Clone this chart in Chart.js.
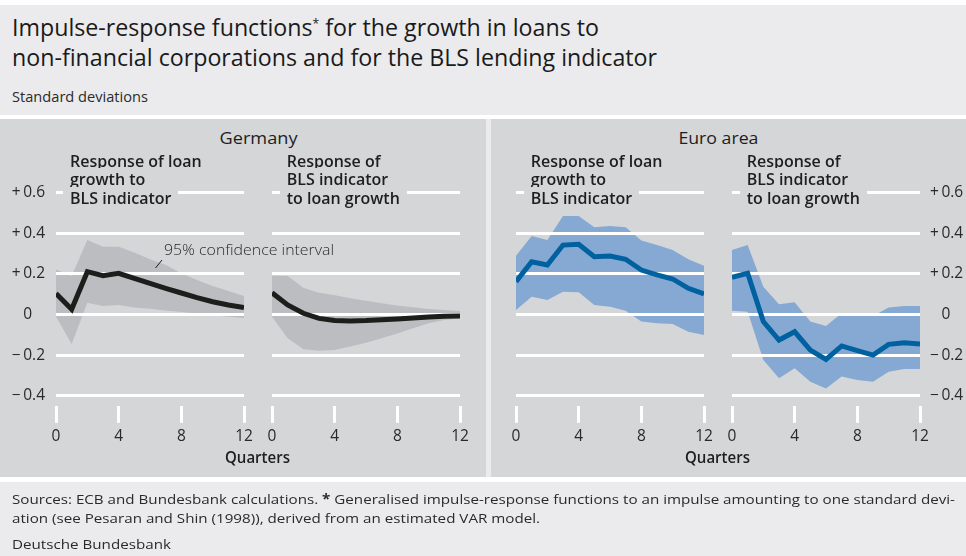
<!DOCTYPE html>
<html>
<head>
<meta charset="utf-8">
<script src="https://cdn.jsdelivr.net/npm/chart.js@4/dist/chart.umd.min.js"></script>
<style>
  html, body { margin: 0; padding: 0; }
  body {
    width: 966px; height: 556px; position: relative; overflow: hidden;
    background: #ebebed; font-family: "Open Sans", "Noto Sans", sans-serif; color: #1e1e1e;
  }
  .strip { position: absolute; left: 0; width: 966px; background: #ffffff; }
  .panel { position: absolute; top: 119px; height: 358px; background: #d5d6d8; }
  canvas { position: absolute; }
  .line { position: absolute; white-space: nowrap; }
  .fit { display: inline-block; transform-origin: left center; }
  .center { text-align: center; width: 400px; }
  .center .fit { transform-origin: center center; }
  .title { font-size: 23px; line-height: 30px; left: 12px; color: #1a1a1a; }
  .title sup { font-size: 12px; vertical-align: top; position: relative; top: -3px; }
  .unit { font-size: 14px; line-height: 20px; left: 12px; color: #2a2a2a; }
  .note { font-size: 13.5px; line-height: 19px; left: 12px; color: #2a2a2a; }
  .region { font-size: 17px; line-height: 22px; font-weight: 500; }
  .axisname { font-size: 15.5px; line-height: 20px; font-weight: 600; }
  .sub { position: absolute; font-size: 16px; line-height: 18.3px; font-weight: 600; white-space: nowrap; }
  .sub div span { background: #d5d6d8; padding: 0 7px; margin-left: -7px; }
  .ci { font-size: 14.5px; line-height: 20px; font-weight: 300; color: #2a2a2a; }
</style>
</head>
<body>
<div class="strip" style="top:0;height:5px"></div>
<div class="strip" style="top:115px;height:4px"></div>
<div class="strip" style="top:477px;height:5px"></div>
<div class="panel" style="left:0;width:486px"></div>
<div class="panel" style="left:491px;width:475px"></div>

<div class="line title" style="top:12px"><span class="fit" id="t1">Impulse-response functions<sup>*</sup> for the growth in loans to</span></div>
<div class="line title" style="top:42px"><span class="fit" id="t2" data-w="645">non-financial corporations and for the BLS lending indicator</span></div>
<div class="line unit" style="top:86.6px"><span class="fit" data-w="136">Standard deviations</span></div>

<div class="line region center" style="left:58px;top:127px"><span class="fit" data-w="78">Germany</span></div>
<div class="line region center" style="left:518px;top:127px"><span class="fit" data-w="80">Euro area</span></div>

<canvas id="c1" width="308" height="300" style="left:-4px;top:170px"></canvas>
<canvas id="c2" width="308" height="300" style="left:212px;top:170px"></canvas>
<canvas id="c3" width="308" height="300" style="left:456px;top:170px"></canvas>
<canvas id="c4" width="308" height="300" style="left:672px;top:170px"></canvas>

<div class="sub" style="left:70px;top:152px"><div><span>Response of loan</span></div><div><span>growth to</span></div><div><span>BLS indicator</span></div></div>
<div class="sub" style="left:286.7px;top:152px"><div><span>Response of</span></div><div><span>BLS indicator</span></div><div><span>to loan growth</span></div></div>
<div class="sub" style="left:530.7px;top:152px"><div><span>Response of loan</span></div><div><span>growth to</span></div><div><span>BLS indicator</span></div></div>
<div class="sub" style="left:746.7px;top:152px"><div><span>Response of</span></div><div><span>BLS indicator</span></div><div><span>to loan growth</span></div></div>

<div class="line ci" style="left:164px;top:240px"><span class="fit" data-w="170">95% confidence interval</span></div>
<svg style="position:absolute;left:0;top:0" width="966" height="556">
  <line x1="155.5" y1="268" x2="162" y2="260" stroke="#1a1a1a" stroke-width="1"/>
</svg>

<div class="line axisname center" style="left:58px;top:447px"><span class="fit" data-w="65">Quarters</span></div>
<div class="line axisname center" style="left:518px;top:447px"><span class="fit" data-w="65">Quarters</span></div>

<div class="line note" style="top:490.3px"><span class="fit" id="n1" data-w="943">Sources: ECB and Bundesbank calculations. <b>*</b> Generalised impulse-response functions to an impulse amounting to one standard devi-</span></div>
<div class="line note" style="top:509.3px"><span class="fit" data-ref="n1">ation (see Pesaran and Shin (1998)), derived from an estimated VAR model.</span></div>
<div class="line note" style="top:535.3px"><span class="fit" data-ref="n1">Deutsche Bundesbank</span></div>

<script>
// Horizon in quarters and axis tick values
const QUARTERS = [0, 1, 2, 3, 4, 5, 6, 7, 8, 9, 10, 11, 12];
const X_TICKS = [0, 4, 8, 12];
const Y_TICKS = [-0.4, -0.2, 0, 0.2, 0.4, 0.6];

// Germany: response of loan growth to BLS indicator
const deLoanResp  = [0.104, 0.026, 0.211, 0.191, 0.203, 0.178, 0.153, 0.129, 0.106, 0.083, 0.063, 0.047, 0.034];
const deLoanUpper = [0.222, 0.190, 0.367, 0.334, 0.334, 0.305, 0.272, 0.244, 0.203, 0.170, 0.140, 0.116, 0.091];
const deLoanLower = [-0.010, -0.145, 0.058, 0.042, 0.047, 0.035, 0.028, 0.020, 0.012, 0.005, -0.004, -0.011, -0.017];

// Germany: response of BLS indicator to loan growth
const deBlsResp  = [0.107, 0.047, 0.006, -0.019, -0.030, -0.032, -0.030, -0.026, -0.022, -0.017, -0.012, -0.009, -0.007];
const deBlsUpper = [0.191, 0.190, 0.132, 0.107, 0.095, 0.080, 0.068, 0.055, 0.044, 0.036, 0.027, 0.022, 0.017];
const deBlsLower = [-0.011, -0.117, -0.171, -0.178, -0.175, -0.158, -0.139, -0.117, -0.093, -0.068, -0.043, -0.027, -0.019];

// Euro area: response of loan growth to BLS indicator
const euLoanResp  = [0.162, 0.260, 0.244, 0.342, 0.346, 0.285, 0.288, 0.272, 0.219, 0.195, 0.175, 0.129, 0.101];
const euLoanUpper = [0.290, 0.387, 0.367, 0.485, 0.485, 0.430, 0.436, 0.430, 0.364, 0.342, 0.318, 0.272, 0.240];
const euLoanLower = [0.022, 0.088, 0.071, 0.112, 0.110, 0.047, 0.038, 0.018, -0.035, -0.043, -0.047, -0.085, -0.101];

// Euro area: response of BLS indicator to loan growth
const euBlsResp  = [0.183, 0.203, -0.035, -0.126, -0.085, -0.175, -0.221, -0.155, -0.178, -0.200, -0.147, -0.139, -0.145];
const euBlsUpper = [0.318, 0.342, 0.137, 0.050, 0.060, -0.035, -0.057, 0.006, 0.006, -0.007, 0.035, 0.042, 0.042];
const euBlsLower = [0.019, 0.014, -0.224, -0.314, -0.265, -0.331, -0.364, -0.306, -0.323, -0.331, -0.282, -0.268, -0.268];

const TEXT = '#2a2a2a';
const FONT = '"Open Sans", "Noto Sans", sans-serif';

// Plot area geometry (page px)
const PLOT_TOP = 192.7, PLOT_BOTTOM = 405.85, CANVAS_TOP = 170, CANVAS_H = 300, CANVAS_W = 308;
const X_AXIS_H = 40;
const LEFT_AXIS_W = 56, RIGHT_AXIS_W = 46;

function tickText(v, side) {
  if (Math.abs(v) < 1e-9) return side === 'left' ? '0\u2008\u2007' : '\u2007\u2009' + '0';
  const s = Math.abs(v).toFixed(1);
  return (v > 0 ? '+\u2009' : '\u2212\u2009') + s;
}

// After the confidence band has been filled, redraw the horizontal grid so the
// white lines sit on top of the band but under the response line.
const gridOverBand = {
  id: 'gridOverBand',
  afterDatasetDraw(chart, args) {
    if (args.index === 1) chart.scales.y.drawGrid(chart.chartArea);
  }
};

function panel(id, plotLeft, plotRight, canvasLeft, resp, upper, lower, lineColor, bandColor, ySide) {
  const pts = arr => QUARTERS.map((q, i) => ({ x: q, y: arr[i] }));
  const yW = ySide === 'left' ? LEFT_AXIS_W : ySide === 'right' ? RIGHT_AXIS_W : 0;
  const padLeft = plotLeft - canvasLeft - (ySide === 'left' ? yW : 0);
  const padRight = (canvasLeft + CANVAS_W) - plotRight - (ySide === 'right' ? yW : 0);
  new Chart(document.getElementById(id), {
    type: 'line',
    data: {
      datasets: [
        { data: pts(resp), borderColor: lineColor, borderWidth: 5, pointRadius: 0,
          borderJoinStyle: 'miter', fill: false, tension: 0 },
        { data: pts(upper), borderColor: 'rgba(0,0,0,0)', borderWidth: 0, pointRadius: 0,
          backgroundColor: bandColor, fill: '+1', tension: 0 },
        { data: pts(lower), borderColor: 'rgba(0,0,0,0)', borderWidth: 0, pointRadius: 0,
          fill: false, tension: 0 }
      ]
    },
    options: {
      responsive: false,
      animation: false,
      events: [],
      layout: {
        padding: {
          left: padLeft, right: padRight,
          top: PLOT_TOP - CANVAS_TOP,
          bottom: CANVAS_H - (PLOT_BOTTOM - CANVAS_TOP) - X_AXIS_H
        }
      },
      plugins: { legend: { display: false }, tooltip: { enabled: false } },
      scales: {
        x: {
          type: 'linear', min: 0, max: 12,
          afterBuildTicks: s => { s.ticks = X_TICKS.map(v => ({ value: v })); },
          afterFit: s => { s.height = X_AXIS_H; },
          border: { display: false },
          grid: { drawOnChartArea: false, drawTicks: true, tickLength: 17, tickWidth: 3, tickColor: '#ffffff' },
          ticks: { color: TEXT, padding: 4, font: { family: FONT, size: 15.5 }, maxRotation: 0 }
        },
        y: {
          position: ySide === 'right' ? 'right' : 'left',
          min: -0.45, max: 0.6,
          afterBuildTicks: s => { s.ticks = Y_TICKS.map(v => ({ value: v })); },
          afterFit: s => { s.width = yW; },
          border: { display: false },
          grid: { color: '#ffffff', lineWidth: 3, drawTicks: false },
          ticks: {
            display: ySide === 'left' || ySide === 'right',
            color: TEXT, padding: ySide === 'right' ? 10 : 11,
            font: { family: FONT, size: 15.5 },
            callback: v => tickText(v, ySide)
          }
        }
      }
    },
    plugins: [gridOverBand]
  });
}

const GREY_LINE = '#1d1d1b', GREY_BAND = '#bcbdc0';
const BLUE_LINE = '#0061a0', BLUE_BAND = '#86a9d3';

panel('c1', 56, 244, -4, deLoanResp, deLoanUpper, deLoanLower, GREY_LINE, GREY_BAND, 'left');
panel('c2', 272, 460, 212, deBlsResp, deBlsUpper, deBlsLower, GREY_LINE, GREY_BAND, 'none');
panel('c3', 516, 704, 456, euLoanResp, euLoanUpper, euLoanLower, BLUE_LINE, BLUE_BAND, 'none');
panel('c4', 732, 920, 672, euBlsResp, euBlsUpper, euBlsLower, BLUE_LINE, BLUE_BAND, 'right');

// Condense text runs to their set widths
function fitText() {
  const scales = {};
  document.querySelectorAll('.fit[data-w]').forEach(el => {
    el.style.transform = 'none';
    const s = parseFloat(el.dataset.w) / el.getBoundingClientRect().width;
    el.style.transform = 'scaleX(' + s + ')';
    if (el.id) scales[el.id] = s;
  });
  document.querySelectorAll('.fit[data-ref]').forEach(el => {
    el.style.transform = 'scaleX(' + scales[el.dataset.ref] + ')';
  });
  const t1 = document.getElementById('t1');
  if (scales.t2) t1.style.transform = 'scaleX(' + scales.t2 + ')';
}
fitText();
if (document.fonts && document.fonts.ready) document.fonts.ready.then(fitText);
</script>
</body>
</html>
